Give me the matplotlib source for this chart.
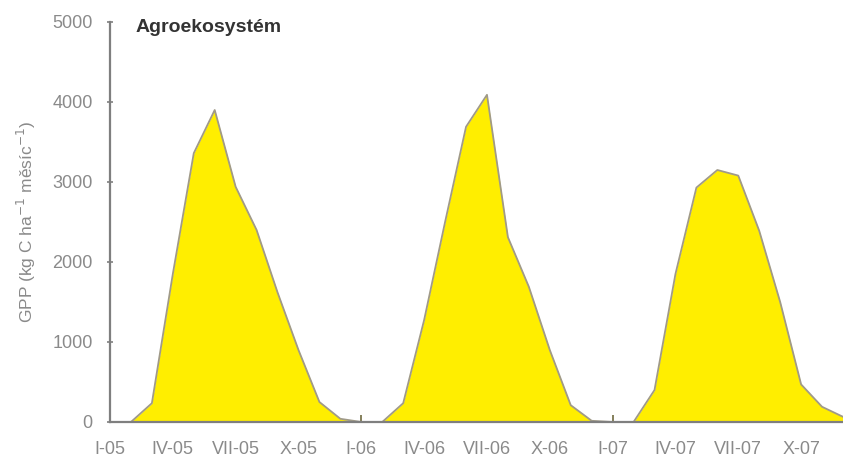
import numpy as np
import matplotlib; matplotlib.use("Agg")
import matplotlib.pyplot as plt

# monthly GPP, Jan 2005 .. Dec 2007
months = np.arange(36)
gpp_2005 = [0, 0, 235, 1850, 3360, 3900, 2940, 2400, 1620, 900, 250, 40]
gpp_2006 = [0, 0, 235, 1275, 2500, 3690, 4090, 2310, 1690, 900, 210, 15]
gpp_2007 = [0, 0, 400, 1850, 2930, 3150, 3080, 2390, 1500, 470, 190, 65]
gpp = np.array(gpp_2005 + gpp_2006 + gpp_2007, float)

tick_pos = [0, 3, 6, 9, 12, 15, 18, 21, 24, 27, 30, 33]
tick_lab = ['I-05', 'IV-05', 'VII-05', 'X-05', 'I-06', 'IV-06', 'VII-06', 'X-06',
            'I-07', 'IV-07', 'VII-07', 'X-07']

plt.rcParams['font.family'] = ['Liberation Sans', 'DejaVu Sans']
fig = plt.figure(figsize=(8.43, 4.62), dpi=100)
ax = fig.add_axes([110 / 843, 40 / 462, 733 / 843, 400 / 462])

ax.fill_between(months, gpp, 0, color='#ffee00', lw=0, zorder=2)
ax.plot(months, gpp, color='#a09a88', lw=1.3, zorder=3, solid_joinstyle='round')

ax.set_xlim(0, 35)
ax.set_ylim(0, 5000)
ax.set_yticks(range(0, 5001, 1000))
ax.set_xticks(tick_pos)
ax.set_xticklabels(tick_lab)

for s in ['top', 'right']:
    ax.spines[s].set_visible(False)
for s in ['left', 'bottom']:
    ax.spines[s].set_color('#7f7f7f')
    ax.spines[s].set_linewidth(1.6)
    ax.spines[s].set_zorder(4)
ax.tick_params(axis='y', direction='inout', length=5, width=1.2, color='#7f7f7f',
               labelsize=13, labelcolor='#8a8a8a', pad=10)
ax.tick_params(axis='x', direction='in', length=5, width=1.2, color='#6f6a40',
               labelsize=13, labelcolor='#8a8a8a', pad=14)

ax.set_ylabel('GPP (kg C ha$^{-1}$ měsíc$^{-1}$)', fontsize=12.5, color='#8a8a8a', labelpad=10)
ax.text(0.035, 0.9875, 'Agroekosystém', transform=ax.transAxes, fontsize=14,
        fontweight='bold', color='#333333', va='center', ha='left')

fig.savefig('out.png', dpi=100)
